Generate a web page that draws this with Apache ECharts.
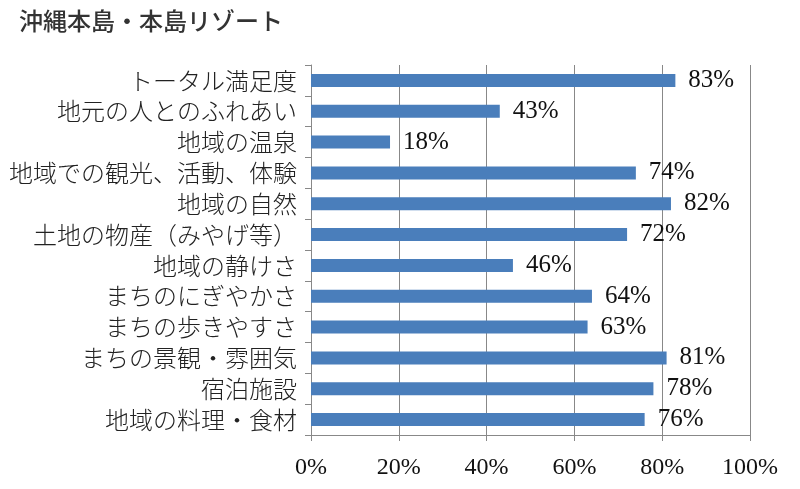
<!DOCTYPE html>
<html>
<head>
<meta charset="utf-8">
<script src="https://cdn.jsdelivr.net/npm/echarts@6/dist/echarts.min.js"></script>
<style>
html, body { margin: 0; padding: 0; background: #fff; }
#chart { width: 800px; height: 489px; }
</style>
</head>
<body>
<div id="chart"></div>
<script>
// categories listed top to bottom as in the picture
const categories = [
  'トータル満足度',
  '地元の人とのふれあい',
  '地域の温泉',
  '地域での観光、活動、体験',
  '地域の自然',
  '土地の物産（みやげ等）',
  '地域の静けさ',
  'まちのにぎやかさ',
  'まちの歩きやすさ',
  'まちの景観・雰囲気',
  '宿泊施設',
  '地域の料理・食材'
]
const satisfaction = [83, 43, 18, 74, 82, 72, 46, 64, 63, 81, 78, 76]
const xTicks = [0, 20, 40, 60, 80, 100]

const chart = echarts.init(document.getElementById('chart'))

const serif = '"Liberation Serif", "DejaVu Serif", serif'
const gothic = '"Noto Sans CJK JP", sans-serif'

chart.setOption({
  animation: false,
  title: {
    text: '沖縄本島・本島リゾート',
    left: 14,
    top: 4,
    textStyle: {
      fontFamily: gothic,
      fontSize: 24,
      fontWeight: 500,
      color: '#333'
    }
  },
  grid: {
    left: 311,
    right: 50,
    top: 65,
    bottom: 54
  },
  xAxis: {
    type: 'value',
    min: xTicks[0],
    max: xTicks[xTicks.length - 1],
    interval: 20,
    axisLine: { show: true, lineStyle: { color: '#888', width: 1 } },
    axisTick: { show: true, length: 6, lineStyle: { color: '#888' } },
    splitLine: { show: true, lineStyle: { color: '#888', width: 1 } },
    axisLabel: {
      formatter: '{value}%',
      fontFamily: serif,
      fontSize: 24,
      color: '#111',
      margin: 21
    }
  },
  yAxis: {
    type: 'category',
    inverse: true,
    data: categories,
    axisLine: { show: true, lineStyle: { color: '#888', width: 1 } },
    axisTick: { show: true, length: 6, lineStyle: { color: '#888' } },
    axisLabel: {
      interval: 0,
      fontFamily: gothic,
      fontSize: 24,
      fontWeight: 300,
      color: '#222',
      margin: 14
    }
  },
  series: [
    {
      type: 'bar',
      data: satisfaction,
      barWidth: 13,
      itemStyle: { color: '#4a7ebb' },
      label: {
        show: true,
        position: 'right',
        distance: 13,
        formatter: '{c}%',
        fontFamily: serif,
        fontSize: 25,
        color: '#111'
      }
    }
  ]
})
</script>
</body>
</html>
